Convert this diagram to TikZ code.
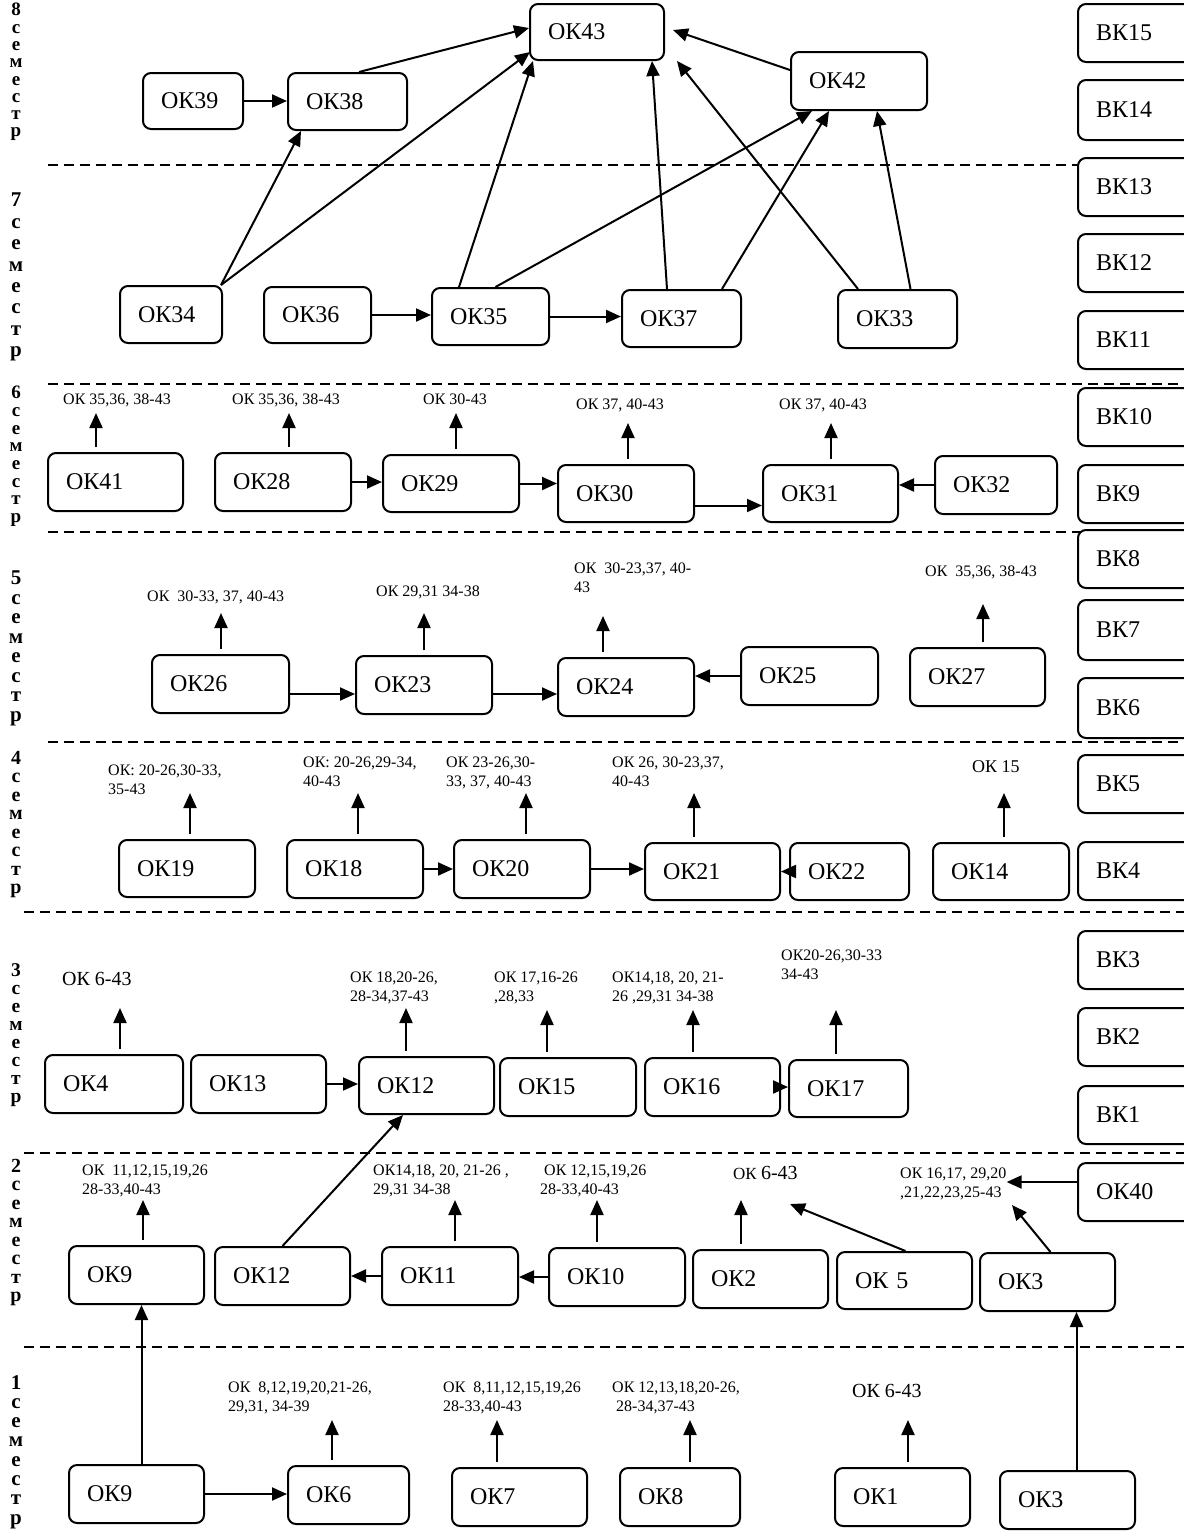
\documentclass[tikz,border=0pt]{standalone}
\usepackage{fontspec}
\setmainfont{Liberation Serif}
\usetikzlibrary{arrows.meta,calc}
\newcommand\okb[6]{%
  \pgfmathsetmacro\okbw{#4-#2}%
  \pgfmathsetmacro\okbh{#5-#3}%
  \pgfmathsetmacro\okbt{#4-#2-36}%
  \node[okbox,minimum width=\okbw pt,minimum height=\okbh pt,text width=\okbt pt] (#1) at ({(#2+#4)/2},{(#3+#5)/2}) {#6};}
\tikzset{
  okbox/.style={draw, line width=2pt, rounded corners=8pt, fill=white, inner xsep=18pt, inner ysep=2pt, font=\fontsize{24}{26}\selectfont, align=left},
  arr/.style={line width=2pt, -{Triangle[length=15pt,width=13pt]}},
  larr/.style={arr, shorten <=5pt},
  lbl/.style={font=\fontsize{16}{19}\selectfont, align=left, anchor=north west, inner sep=0pt},
  lblbig/.style={lbl, font=\fontsize{20}{22}\selectfont},
  dashline/.style={line width=1.6pt, dash pattern=on 10pt off 6pt},
  sem/.style={align=center, inner sep=0pt, anchor=north}
}
\begin{document}
\begin{tikzpicture}[x=1pt,y=-1pt]
\useasboundingbox (0,0) rectangle (1184,1535);
\fill[white] (0,0) rectangle (1184,1535);

% semester labels
\node[sem,font=\bfseries\fontsize{19}{17.3}\selectfont] (s8) at (16,3) {8\\с\\е\\м\\е\\с\\т\\р};
\node[sem,font=\bfseries\fontsize{21}{21.4}\selectfont] (s7) at (16,193) {7\\с\\е\\м\\е\\с\\т\\р};
\node[sem,font=\bfseries\fontsize{19}{17.7}\selectfont] (s6) at (16,386) {6\\с\\е\\м\\е\\с\\т\\р};
\node[sem,font=\bfseries\fontsize{21}{19.5}\selectfont] (s5) at (16,571) {5\\с\\е\\м\\е\\с\\т\\р};
\node[sem,font=\bfseries\fontsize{20}{18.5}\selectfont] (s4) at (16,751) {4\\с\\е\\м\\е\\с\\т\\р};
\node[sem,font=\bfseries\fontsize{19.5}{18}\selectfont] (s3) at (16,963) {3\\с\\е\\м\\е\\с\\т\\р};
\node[sem,font=\bfseries\fontsize{20}{18.5}\selectfont] (s2) at (16,1159) {2\\с\\е\\м\\е\\с\\т\\р};
\node[sem,font=\bfseries\fontsize{21}{19.3}\selectfont] (s1) at (16,1375) {1\\с\\е\\м\\е\\с\\т\\р};

% dashed separators
\draw[dashline] (48,165) -- (1184,165);
\draw[dashline] (48,384) -- (1184,384);
\draw[dashline] (48,532) -- (1184,532);
\draw[dashline] (48,742) -- (1184,742);
\draw[dashline] (24,912) -- (1184,912);
\draw[dashline] (24,1153) -- (1184,1153);
\draw[dashline] (24,1347) -- (1184,1347);

% right column
\okb{vk15}{1078}{4}{1200}{62}{ВК15}
\okb{vk14}{1078}{80}{1200}{140}{ВК14}
\okb{vk13}{1078}{158}{1200}{216}{ВК13}
\okb{vk12}{1078}{234}{1200}{292}{ВК12}
\okb{vk11}{1078}{311}{1200}{369}{ВК11}
\okb{vk10}{1078}{388}{1200}{446}{ВК10}
\okb{vk9}{1078}{465}{1200}{523}{ВК9}
\okb{vk8}{1078}{530}{1200}{588}{ВК8}
\okb{vk7}{1078}{600}{1200}{660}{ВК7}
\okb{vk6}{1078}{678}{1200}{738}{ВК6}
\okb{vk5}{1078}{755}{1200}{813}{ВК5}
\okb{vk4}{1078}{842}{1200}{900}{ВК4}
\okb{vk3}{1078}{931}{1200}{989}{ВК3}
\okb{vk2}{1078}{1008}{1200}{1066}{ВК2}
\okb{vk1}{1078}{1086}{1200}{1144}{ВК1}
\okb{ok40}{1078}{1163}{1200}{1221}{ОК40}

% semesters 8 and 7
\okb{ok43}{530}{4}{664}{60}{ОК43}
\okb{ok39}{143}{73}{243}{129}{ОК39}
\okb{ok38}{288}{73}{407}{130}{ОК38}
\okb{ok42}{791}{52}{927}{110}{ОК42}
\okb{ok34}{120}{286}{222}{343}{ОК34}
\okb{ok36}{264}{287}{371}{343}{ОК36}
\okb{ok35}{432}{288}{549}{345}{ОК35}
\okb{ok37}{622}{290}{741}{347}{ОК37}
\okb{ok33}{838}{290}{957}{348}{ОК33}

\draw[arr] (ok39.east) -- (ok39.east -| ok38.west);
\draw[arr] ([xshift=72pt]ok38.north west) -- ([yshift=4pt]ok43.west);
\draw[arr] ([xshift=-2pt]ok34.north east) -- ([xshift=14pt]ok38.south west);
\draw[arr] ([xshift=-2pt]ok34.north east) -- ([xshift=1pt,yshift=9pt]ok43.south west);
\draw[arr] (ok36.east) -- (ok36.east -| ok35.west);
\draw[arr] ([xshift=28pt]ok35.north west) -- ([xshift=4pt]ok43.south west);
\draw[arr] ([xshift=5pt]ok35.north) -- ([xshift=22pt]ok42.south west);
\draw[arr] (ok35.east) -- (ok35.east -| ok37.west);
\draw[arr] ([xshift=46pt]ok37.north west) -- ([xshift=-13pt]ok43.south east);
\draw[arr] ([xshift=-20pt]ok37.north east) -- ([xshift=39pt]ok42.south west);
\draw[arr] ([xshift=21pt]ok33.north west) -- ([xshift=12pt]ok43.south east);
\draw[arr] ([xshift=13pt]ok33.north) -- ([xshift=18pt]ok42.south);
\draw[arr] ([yshift=11pt]ok42.west) -- ([xshift=8pt,yshift=2pt]ok43.east);

% semester 6
\okb{ok41}{48}{453}{183}{511}{ОК41}
\okb{ok28}{215}{453}{351}{511}{ОК28}
\okb{ok29}{383}{455}{519}{512}{ОК29}
\okb{ok30}{558}{465}{694}{522}{ОК30}
\okb{ok31}{763}{465}{898}{522}{ОК31}
\okb{ok32}{935}{456}{1057}{514}{ОК32}

\node[lbl] (l41) at (63,394) {ОК 35,36, 38-43};
\node[lbl] (l28) at (232,394) {ОК 35,36, 38-43};
\node[lbl] (l29) at (423,394) {ОК 30-43};
\node[lbl] (l30) at (576,399) {ОК 37, 40-43};
\node[lbl] (l31) at (779,399) {ОК 37, 40-43};
\coordinate (a41) at (96,413);
\coordinate (a28) at (289,413);
\coordinate (a29) at (456,413);
\coordinate (a30) at (628,423);
\coordinate (a31) at (831,423);
\draw[larr] (ok41.north -| a41) -- (a41);
\draw[larr] (ok28.north -| a28) -- (a28);
\draw[larr] (ok29.north -| a29) -- (a29);
\draw[larr] (ok30.north -| a30) -- (a30);
\draw[larr] (ok31.north -| a31) -- (a31);

\draw[arr] (ok28.east) -- (ok28.east -| ok29.west);
\draw[arr] (ok29.east) -- (ok29.east -| ok30.west);
\draw[arr] ([yshift=-12pt]ok30.east) -- ([yshift=-12pt]ok31.west);
\draw[arr] (ok32.west) -- (ok32.west -| ok31.east);

% semester 5
\okb{ok26}{152}{655}{289}{713}{ОК26}
\okb{ok23}{356}{656}{492}{714}{ОК23}
\okb{ok24}{558}{658}{694}{716}{ОК24}
\okb{ok25}{741}{647}{878}{705}{ОК25}
\okb{ok27}{910}{648}{1045}{706}{ОК27}

\node[lbl] (l26) at (147,591) {ОК\ \ 30-33, 37, 40-43};
\node[lbl] (l23) at (376,586) {ОК 29,31 34-38};
\node[lbl] (l24) at (574,563) {ОК\ \ 30-23,37, 40-\\43};
\node[lbl] (l27) at (925,566) {ОК\ \ 35,36, 38-43};
\coordinate (a26) at (221,613);
\coordinate (a23) at (424,613);
\coordinate (a24) at (603,616);
\coordinate (a27) at (983,604);
\draw[larr] (ok26.north -| a26) -- (a26);
\draw[larr] (ok23.north -| a23) -- (a23);
\draw[larr] (ok24.north -| a24) -- (a24);
\draw[larr] (ok27.north -| a27) -- (a27);

\draw[arr] ([yshift=-10pt]ok26.east) -- ([yshift=-10pt]ok26.east -| ok23.west);
\draw[arr] ([yshift=-9pt]ok23.east) -- ([yshift=-9pt]ok23.east -| ok24.west);
\draw[arr] (ok25.west) -- (ok25.west -| ok24.east);

% semester 4
\okb{ok19}{119}{840}{255}{897}{ОК19}
\okb{ok18}{287}{840}{423}{898}{ОК18}
\okb{ok20}{454}{840}{590}{898}{ОК20}
\okb{ok21}{645}{843}{780}{900}{ОК21}
\okb{ok22}{790}{843}{909}{900}{ОК22}
\okb{ok14}{933}{843}{1069}{900}{ОК14}

\node[lbl] (l19) at (108,765) {ОК: 20-26,30-33,\\35-43};
\node[lbl] (l18) at (303,757) {ОК: 20-26,29-34,\\40-43};
\node[lbl] (l20) at (446,757) {ОК 23-26,30-\\33, 37, 40-43};
\node[lbl] (l21) at (612,757) {ОК 26, 30-23,37,\\40-43};
\node[lbl,font=\fontsize{18}{20}\selectfont] (l14) at (972,760) {ОК 15};
\coordinate (a19) at (190,793);
\coordinate (a18) at (358,793);
\coordinate (a20) at (526,793);
\coordinate (a21) at (694,793);
\coordinate (a14) at (1004,793);
\draw[larr] (ok19.north -| a19) -- (a19);
\draw[larr] (ok18.north -| a18) -- (a18);
\draw[larr] (ok20.north -| a20) -- (a20);
\draw[larr] (ok21.north -| a21) -- (a21);
\draw[larr] (ok14.north -| a14) -- (a14);

\draw[arr] (ok18.east) -- (ok18.east -| ok20.west);
\draw[arr] (ok20.east) -- (ok20.east -| ok21.west);
\draw[arr] (ok22.west) -- (ok22.west -| ok21.east);

% semester 3
\okb{ok4}{45}{1055}{183}{1113}{ОК4}
\okb{ok13}{191}{1055}{326}{1113}{ОК13}
\okb{ok12c}{359}{1057}{494}{1114}{ОК12}
\okb{ok15}{500}{1058}{636}{1116}{ОК15}
\okb{ok16}{645}{1058}{780}{1116}{ОК16}
\okb{ok17}{789}{1060}{908}{1117}{ОК17}

\node[lblbig] (l4) at (62,972) {ОК 6-43};
\node[lbl] (l12) at (350,972) {ОК 18,20-26,\\28-34,37-43};
\node[lbl] (l15) at (494,972) {ОК 17,16-26\\,28,33};
\node[lbl] (l16) at (612,972) {ОК14,18, 20, 21-\\26 ,29,31 34-38};
\node[lbl] (l17) at (781,950) {ОК20-26,30-33\\34-43};
\coordinate (a4) at (120,1008);
\coordinate (a12) at (406,1008);
\coordinate (a15) at (547,1010);
\coordinate (a16) at (693,1010);
\coordinate (a17) at (836,1010);
\draw[larr] (ok4.north -| a4) -- (a4);
\draw[larr] (ok12c.north -| a12) -- (a12);
\draw[larr] (ok15.north -| a15) -- (a15);
\draw[larr] (ok16.north -| a16) -- (a16);
\draw[larr] (ok17.north -| a17) -- (a17);

\draw[arr] (ok13.east) -- (ok13.east -| ok12c.west);
\draw[arr] (ok16.east) -- (ok16.east -| ok17.west);

% semester 2
\okb{ok9b}{69}{1246}{204}{1304}{ОК9}
\okb{ok12b}{215}{1247}{350}{1305}{ОК12}
\okb{ok11}{382}{1247}{518}{1305}{ОК11}
\okb{ok10}{549}{1248}{685}{1306}{ОК10}
\okb{ok2}{693}{1250}{828}{1308}{ОК2}
\okb{ok5}{837}{1252}{972}{1309}{ОК 5}
\okb{ok3b}{980}{1253}{1115}{1311}{ОК3}

\node[lbl] (l9) at (82,1165) {ОК\ \ 11,12,15,19,26\\28-33,40-43};
\node[lbl] (l11) at (373,1165) {ОК14,18, 20, 21-26 ,\\29,31 34-38};
\node[lbl] (l10) at (540,1165) {\ ОК 12,15,19,26\\28-33,40-43};
\node[lblbig] (l2) at (733,1166) {\fontsize{17}{20}\selectfont ОК \fontsize{20}{22}\selectfont 6-43};
\node[lbl] (l3) at (900,1168) {ОК 16,17, 29,20\\,21,22,23,25-43};
\coordinate (a9) at (143,1200);
\coordinate (a11) at (455,1200);
\coordinate (a10) at (597,1200);
\coordinate (a2) at (741,1200);
\coordinate (a5) at (790,1204);
\coordinate (a3) at (1012,1205);
\draw[larr] (ok9b.north -| a9) -- (a9);
\draw[larr] (ok11.north -| a11) -- (a11);
\draw[larr] (ok10.north -| a10) -- (a10);
\draw[larr] (ok2.north -| a2) -- (a2);
\draw[arr] ([xshift=1pt]ok5.north) -- (a5);
\draw[arr] ([xshift=3pt]ok3b.north) -- (a3);
\draw[arr] ([yshift=10pt]ok40.west) -- ([yshift=10pt]ok40.west -| l3.east);

\draw[arr] (ok12b.north) -- ([xshift=45pt]ok12c.south west);
\draw[arr] (ok11.west) -- (ok11.west -| ok12b.east);
\draw[arr] (ok10.west) -- (ok10.west -| ok11.east);

% semester 1
\okb{ok9a}{69}{1465}{204}{1523}{ОК9}
\okb{ok6}{288}{1466}{409}{1524}{ОК6}
\okb{ok7}{452}{1468}{587}{1526}{ОК7}
\okb{ok8}{620}{1468}{740}{1526}{ОК8}
\okb{ok1}{835}{1468}{970}{1526}{ОК1}
\okb{ok3a}{1000}{1471}{1135}{1529}{ОК3}

\node[lbl] (l6) at (228,1382) {ОК\ \ 8,12,19,20,21-26,\\29,31, 34-39};
\node[lbl] (l7) at (443,1382) {ОК\ \ 8,11,12,15,19,26\\28-33,40-43};
\node[lbl] (l8) at (612,1382) {ОК 12,13,18,20-26,\\\ 28-34,37-43};
\node[lblbig] (l1) at (852,1384) {ОК 6-43};
\coordinate (a6) at (332,1420);
\coordinate (a7) at (497,1420);
\coordinate (a8) at (690,1420);
\coordinate (a1) at (908,1420);
\draw[larr] (ok6.north -| a6) -- (a6);
\draw[larr] (ok7.north -| a7) -- (a7);
\draw[larr] (ok8.north -| a8) -- (a8);
\draw[larr] (ok1.north -| a1) -- (a1);

\draw[arr] (ok9a.east) -- (ok9a.east -| ok6.west);
\draw[arr] ([xshift=5pt]ok9a.north) -- ([xshift=5pt]ok9b.south);
\draw[arr] ([xshift=9pt]ok3a.north) -- ([xshift=29pt]ok3b.south);
\end{tikzpicture}
\end{document}
